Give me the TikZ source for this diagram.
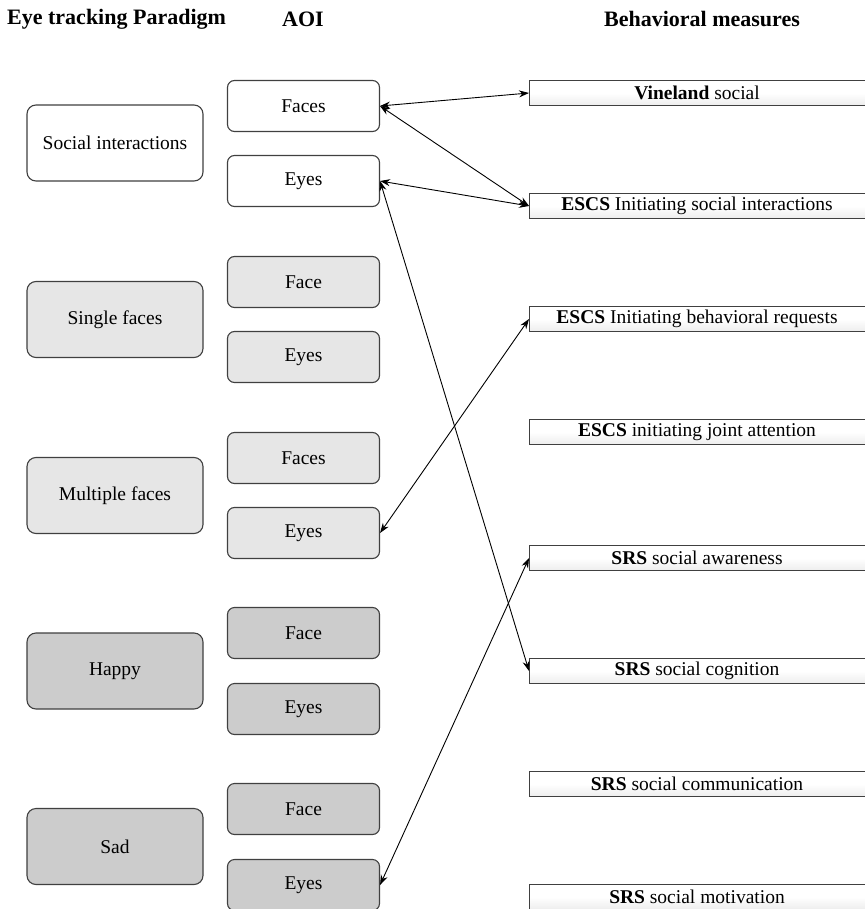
\documentclass[tikz,border=0pt]{standalone}
\usepackage{fontspec}
\setmainfont{Liberation Serif}
\usetikzlibrary{arrows.meta}
\definecolor{lightg}{HTML}{E6E6E6}
\definecolor{darkg}{HTML}{CCCCCC}
\definecolor{edge}{HTML}{404040}
\begin{document}
\begin{tikzpicture}[x=1pt,y=-1pt,
  every node/.style={font=\fontsize{19.5}{22}\selectfont, inner sep=0pt},
  head/.style={font=\fontsize{22}{24}\selectfont\bfseries},
  parbox/.style={draw=edge, line width=1.1pt, rounded corners=9pt, minimum width=176pt, minimum height=76pt},
  aoibox/.style={draw=edge, line width=1.1pt, rounded corners=7pt, minimum width=152pt, minimum height=51pt},
  measbox/.style={draw=edge, line width=0.9pt, top color=white, bottom color=gray!14, middle color=white, minimum width=338pt, minimum height=25pt, anchor=west},
  measlabel/.style={anchor=center},
  link/.style={line width=0.9pt, black, {Stealth[length=10pt,width=7pt]}-{Stealth[length=10pt,width=7pt]}}
]
\useasboundingbox (0,0) rectangle (864,909);
\fill[white] (0,0) rectangle (864,909);

% headers
\node[head, anchor=west] (h1) at (7,19) {Eye tracking Paradigm};
\node[head] (h2) at (303,19) {AOI};
\node[head] (h3) at (702,19) {Behavioral measures};

% paradigm boxes
\node[parbox, fill=white] (p1) at (115,143) {Social interactions};
\node[parbox, fill=lightg] (p2) at (115,319.5) {Single faces};
\node[parbox, fill=lightg] (p3) at (115,495.5) {Multiple faces};
\node[parbox, fill=darkg] (p4) at (115,671) {Happy};
\node[parbox, fill=darkg] (p5) at (115,846.5) {Sad};

% AOI boxes
\node[aoibox, fill=white] (a1) at (303.5,106) {Faces};
\node[aoibox, fill=white] (a2) at (303.5,181) {Eyes};
\node[aoibox, fill=lightg] (a3) at (303.5,282) {Face};
\node[aoibox, fill=lightg] (a4) at (303.5,357) {Eyes};
\node[aoibox, fill=lightg] (a5) at (303.5,458) {Faces};
\node[aoibox, fill=lightg] (a6) at (303.5,533) {Eyes};
\node[aoibox, fill=darkg] (a7) at (303.5,633) {Face};
\node[aoibox, fill=darkg] (a8) at (303.5,709) {Eyes};
\node[aoibox, fill=darkg] (a9) at (303.5,809) {Face};
\node[aoibox, fill=darkg] (a10) at (303.5,885) {Eyes};

% measure boxes
\node[measbox] (m1) at (529,93) {};
\node[measbox] (m2) at (529,206) {};
\node[measbox] (m3) at (529,319) {};
\node[measbox] (m4) at (529,432) {};
\node[measbox] (m5) at (529,558) {};
\node[measbox] (m6) at (529,671) {};
\node[measbox] (m7) at (529,784) {};
\node[measbox] (m8) at (529,897) {};
\node[measlabel] (t1) at (697,93) {\textbf{Vineland} social};
\node[measlabel] (t2) at (697,206) {\textbf{ESCS} Initiating social interactions};
\node[measlabel] (t3) at (697,319) {\textbf{ESCS} Initiating behavioral requests};
\node[measlabel] (t4) at (697,432) {\textbf{ESCS} initiating joint attention};
\node[measlabel] (t5) at (697,558) {\textbf{SRS} social awareness};
\node[measlabel] (t6) at (697,671) {\textbf{SRS} social cognition};
\node[measlabel] (t7) at (697,784) {\textbf{SRS} social communication};
\node[measlabel] (t8) at (697,897) {\textbf{SRS} social motivation};

% connectors
\draw[link] (a1.east) -- (m1.west);
\draw[link] (a1.east) -- (m2.west);
\draw[link] (a2.east) -- (m2.west);
\draw[link] (a2.east) -- (m6.west);
\draw[link] (a6.east) -- (m3.west);
\draw[link] (a10.east) -- (m5.west);
\end{tikzpicture}
\end{document}
